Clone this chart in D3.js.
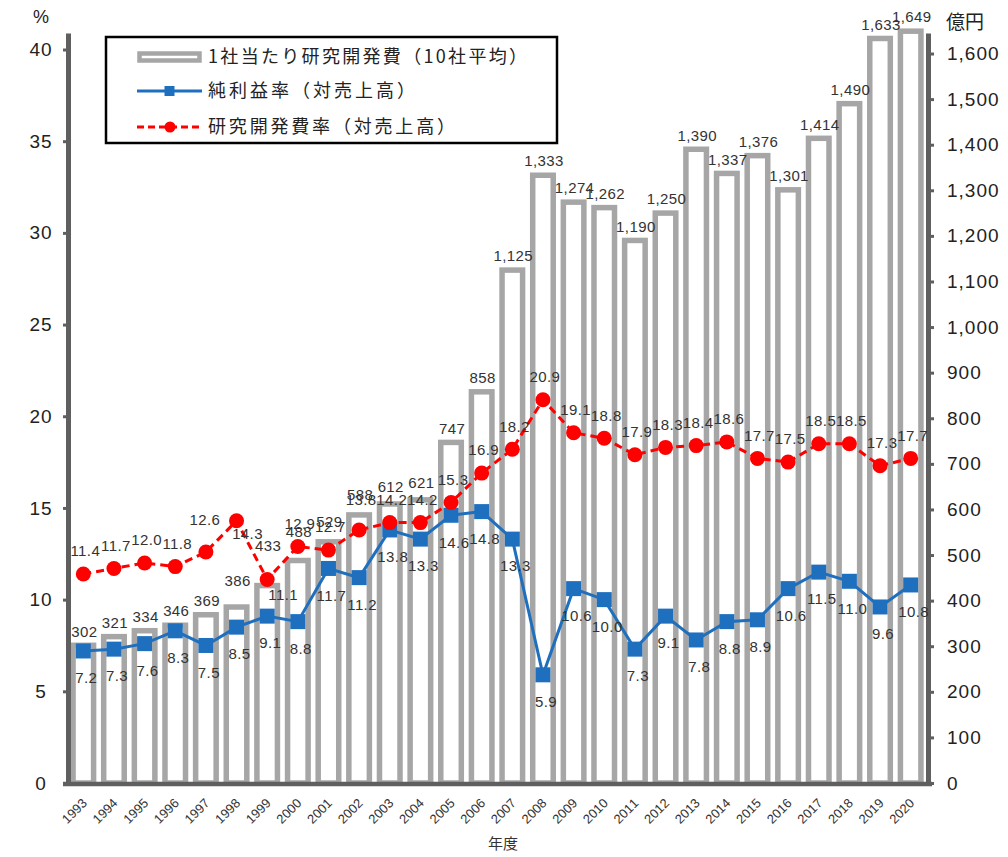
<!DOCTYPE html>
<html>
<head>
<meta charset="utf-8">
<script src="https://cdn.jsdelivr.net/npm/d3@7/dist/d3.min.js"></script>
<style>
  html, body { margin: 0; padding: 0; background: #fff; }
  svg { display: block; }
  .num { font-family: "Liberation Sans", Arial, sans-serif; }
  .jp { font-family: "Noto Sans CJK JP", "Noto Sans", sans-serif; }
</style>
</head>
<body>
<svg id="chart" width="1008" height="857"></svg>
<script>
// Fiscal years
const years = ["1993","1994","1995","1996","1997","1998","1999","2000","2001","2002",
  "2003","2004","2005","2006","2007","2008","2009","2010","2011","2012",
  "2013","2014","2015","2016","2017","2018","2019","2020"];

// R&D spending per company, average of 10 companies (億円)
const rdPerCompany = [302, 321, 334, 346, 369, 386, 433, 488, 529, 588,
  612, 621, 747, 858, 1125, 1333, 1274, 1262, 1190, 1250,
  1390, 1337, 1376, 1301, 1414, 1490, 1633, 1649];

// Net profit ratio to sales (%)
const netProfitRate = [7.2, 7.3, 7.6, 8.3, 7.5, 8.5, 9.1, 8.8, 11.7, 11.2,
  13.8, 13.3, 14.6, 14.8, 13.3, 5.9, 10.6, 10.0, 7.3, 9.1,
  7.8, 8.8, 8.9, 10.6, 11.5, 11.0, 9.6, 10.8];

// R&D spending ratio to sales (%)
const rdRate = [11.4, 11.7, 12.0, 11.8, 12.6, 14.3, 11.1, 12.9, 12.7, 13.8,
  14.2, 14.2, 15.3, 16.9, 18.2, 20.9, 19.1, 18.8, 17.9, 18.3,
  18.4, 18.6, 17.7, 17.5, 18.5, 18.5, 17.3, 17.7];

// Axis tick values
const leftTicks = [0, 5, 10, 15, 20, 25, 30, 35, 40];
const rightTicks = [0, 100, 200, 300, 400, 500, 600, 700, 800, 900, 1000,
  1100, 1200, 1300, 1400, 1500, 1600];

// Legend entries
const legendLabels = ["1社当たり研究開発費（10社平均）", "純利益率（対売上高）", "研究開発費率（対売上高）"];

// ---- layout ----
const plot = { left: 68, right: 926, top: 33, bottom: 783 };
const leftMax = 40.9, rightMax = 1645;
const BLUE = "#1f6fbf", RED = "#ff0000", BAR = "#a6a6a6", AXIS = "#5f5f5f", TXT = "#333";

const svg = d3.select("#chart");

const x = d3.scaleBand().domain(years).range([plot.left, plot.right]).padding(0);
const cx = d => x(d) + x.bandwidth() / 2;
const yL = d3.scaleLinear().domain([0, leftMax]).range([plot.bottom, plot.top]);
const yR = d3.scaleLinear().domain([0, rightMax]).range([plot.bottom, plot.top]);

const rows = years.map((yr, i) => ({ yr, rd: rdPerCompany[i], np: netProfitRate[i], rr: rdRate[i] }));

// ---- bars (hollow, thick grey outline) ----
const barW = x.bandwidth() * 0.67;
svg.append("g").selectAll("rect").data(rows).join("rect")
  .attr("x", d => cx(d.yr) - barW / 2)
  .attr("y", d => yR(d.rd))
  .attr("width", barW)
  .attr("height", d => yR(0) - yR(d.rd))
  .attr("fill", "#fff")
  .attr("stroke", BAR)
  .attr("stroke-width", 5.5);

// ---- axes ----
const gL = svg.append("g").attr("transform", `translate(${plot.left},0)`)
  .call(d3.axisLeft(yL).tickValues(leftTicks).tickSize(5).tickSizeOuter(0).tickPadding(0));
gL.select(".domain").attr("stroke", AXIS).attr("stroke-width", 5);
gL.selectAll(".tick line").attr("stroke", AXIS).attr("stroke-width", 3);
gL.selectAll(".tick text")
  .attr("class", "num").attr("x", 41 - plot.left).attr("text-anchor", "middle")
  .attr("font-size", 19).attr("letter-spacing", 1).attr("fill", "#222");

const gR = svg.append("g").attr("transform", `translate(${plot.right + 2},0)`)
  .call(d3.axisRight(yR).tickValues(rightTicks).tickSize(6).tickSizeOuter(0)
    .tickFormat(d3.format(",")));
gR.select(".domain").attr("stroke", AXIS).attr("stroke-width", 5);
gR.selectAll(".tick line").attr("stroke", AXIS).attr("stroke-width", 3);
gR.selectAll(".tick text")
  .attr("class", "num").attr("x", 19).attr("text-anchor", "start")
  .attr("font-size", 19).attr("letter-spacing", 1).attr("fill", "#222");

// category axis: year labels slanted at 45°, each glyph placed along the
// diagonal and turned by -45°, the string ending just right of the band centre
const c45 = Math.SQRT1_2;
const yrFont = 13, digitAdv = 0.556 * yrFont, step = digitAdv * c45;
svg.append("g").selectAll("text").data(years).join("text")
  .attr("class", "num")
  .attr("font-size", yrFont).attr("fill", TXT)
  .attr("x", d => d.split("").map((_, i) => (cx(d) + 4.5 - (d.length - i) * step).toFixed(2)).join(" "))
  .attr("y", d => d.split("").map((_, i) => (plot.bottom + 21 + (d.length - i) * step).toFixed(2)).join(" "))
  .attr("rotate", -45)
  .text(d => d);

svg.append("line")
  .attr("x1", plot.left - 5).attr("x2", plot.right + 6)
  .attr("y1", plot.bottom + 1).attr("y2", plot.bottom + 1)
  .attr("stroke", AXIS).attr("stroke-width", 4.5);

// ---- net profit ratio line ----
svg.append("path").datum(rows)
  .attr("fill", "none").attr("stroke", BLUE).attr("stroke-width", 3)
  .attr("d", d3.line().x(d => cx(d.yr)).y(d => yL(d.np)));
svg.append("g").selectAll("rect").data(rows).join("rect")
  .attr("x", d => cx(d.yr) - 7.5).attr("y", d => yL(d.np) - 7.5)
  .attr("width", 15).attr("height", 15).attr("fill", BLUE);

// ---- R&D ratio line ----
svg.append("path").datum(rows)
  .attr("fill", "none").attr("stroke", RED).attr("stroke-width", 3)
  .attr("stroke-dasharray", "8,5")
  .attr("d", d3.line().x(d => cx(d.yr)).y(d => yL(d.rr)));
svg.append("g").selectAll("circle").data(rows).join("circle")
  .attr("cx", d => cx(d.yr)).attr("cy", d => yL(d.rr))
  .attr("r", 7.5).attr("fill", RED);

// ---- data labels ----
// default placement per series, with a few labels nudged away from neighbours
const barNudge = { "1998": -26, "1999": -40, "2000": -29, "2001": -20, "2002": -20, "2003": -17, "2004": -17 };
const redNudge = { "1997": [-3, -32], "1998": [9, 13], "1999": [14, 15], "2002": [0, -30] };

const labels = svg.append("g").attr("class", "num")
  .attr("font-size", 15).attr("fill", TXT).attr("text-anchor", "middle")
  .attr("letter-spacing", 0.4);

labels.selectAll("text.bar").data(rows).join("text").attr("class", "bar")
  .attr("x", d => cx(d.yr) + 1)
  .attr("y", d => yR(d.rd) + (barNudge[d.yr] ?? -14))
  .attr("dy", "0.35em")
  .text(d => d3.format(",")(d.rd));

labels.selectAll("text.np").data(rows).join("text").attr("class", "np")
  .attr("x", d => cx(d.yr) + 3)
  .attr("y", d => yL(d.np) + 27)
  .attr("dy", "0.35em")
  .text(d => d.np.toFixed(1));

labels.selectAll("text.rr").data(rows).join("text").attr("class", "rr")
  .attr("x", d => cx(d.yr) + 2 + (redNudge[d.yr] ? redNudge[d.yr][0] : 0))
  .attr("y", d => yL(d.rr) + (redNudge[d.yr] ? redNudge[d.yr][1] : -23))
  .attr("dy", "0.35em")
  .text(d => d.rr.toFixed(1));

// ---- axis titles ----
svg.append("text").attr("class", "num").attr("x", 41).attr("y", 23)
  .attr("text-anchor", "middle").attr("font-size", 18).attr("fill", "#222").text("%");
svg.append("text").attr("class", "jp").attr("x", 946).attr("y", 29)
  .attr("font-size", 19).attr("fill", "#222").text("億円");
svg.append("text").attr("class", "jp").attr("x", 503).attr("y", 849)
  .attr("text-anchor", "middle").attr("font-size", 15).attr("fill", TXT).text("年度");

// ---- legend ----
const lg = svg.append("g");
lg.append("rect").attr("x", 106).attr("y", 37).attr("width", 451).attr("height", 106)
  .attr("fill", "#fff").attr("stroke", "#000").attr("stroke-width", 2.5);

const rowY = [57, 91, 127];
const textLen = [319, 207, 247];
lg.append("rect").attr("x", 139.5).attr("y", rowY[0] - 3.5).attr("width", 60).attr("height", 7)
  .attr("fill", "#fff").attr("stroke", BAR).attr("stroke-width", 4.5);

lg.append("line").attr("x1", 137).attr("x2", 202).attr("y1", rowY[1]).attr("y2", rowY[1])
  .attr("stroke", BLUE).attr("stroke-width", 3);
lg.append("rect").attr("x", 164.5).attr("y", rowY[1] - 5).attr("width", 10).attr("height", 10)
  .attr("fill", BLUE);

lg.append("line").attr("x1", 137).attr("x2", 202).attr("y1", rowY[2]).attr("y2", rowY[2])
  .attr("stroke", RED).attr("stroke-width", 3).attr("stroke-dasharray", "7,4");
lg.append("circle").attr("cx", 170).attr("cy", rowY[2]).attr("r", 5.5).attr("fill", RED);

lg.selectAll("text.lt").data(legendLabels).join("text").attr("class", "jp")
  .attr("x", 208).attr("y", (d, i) => rowY[i]).attr("dy", "0.36em")
  .attr("font-size", 18).attr("fill", "#222")
  .attr("textLength", (d, i) => textLen[i]).attr("lengthAdjust", "spacing")
  .text(d => d);
</script>
</body>
</html>
